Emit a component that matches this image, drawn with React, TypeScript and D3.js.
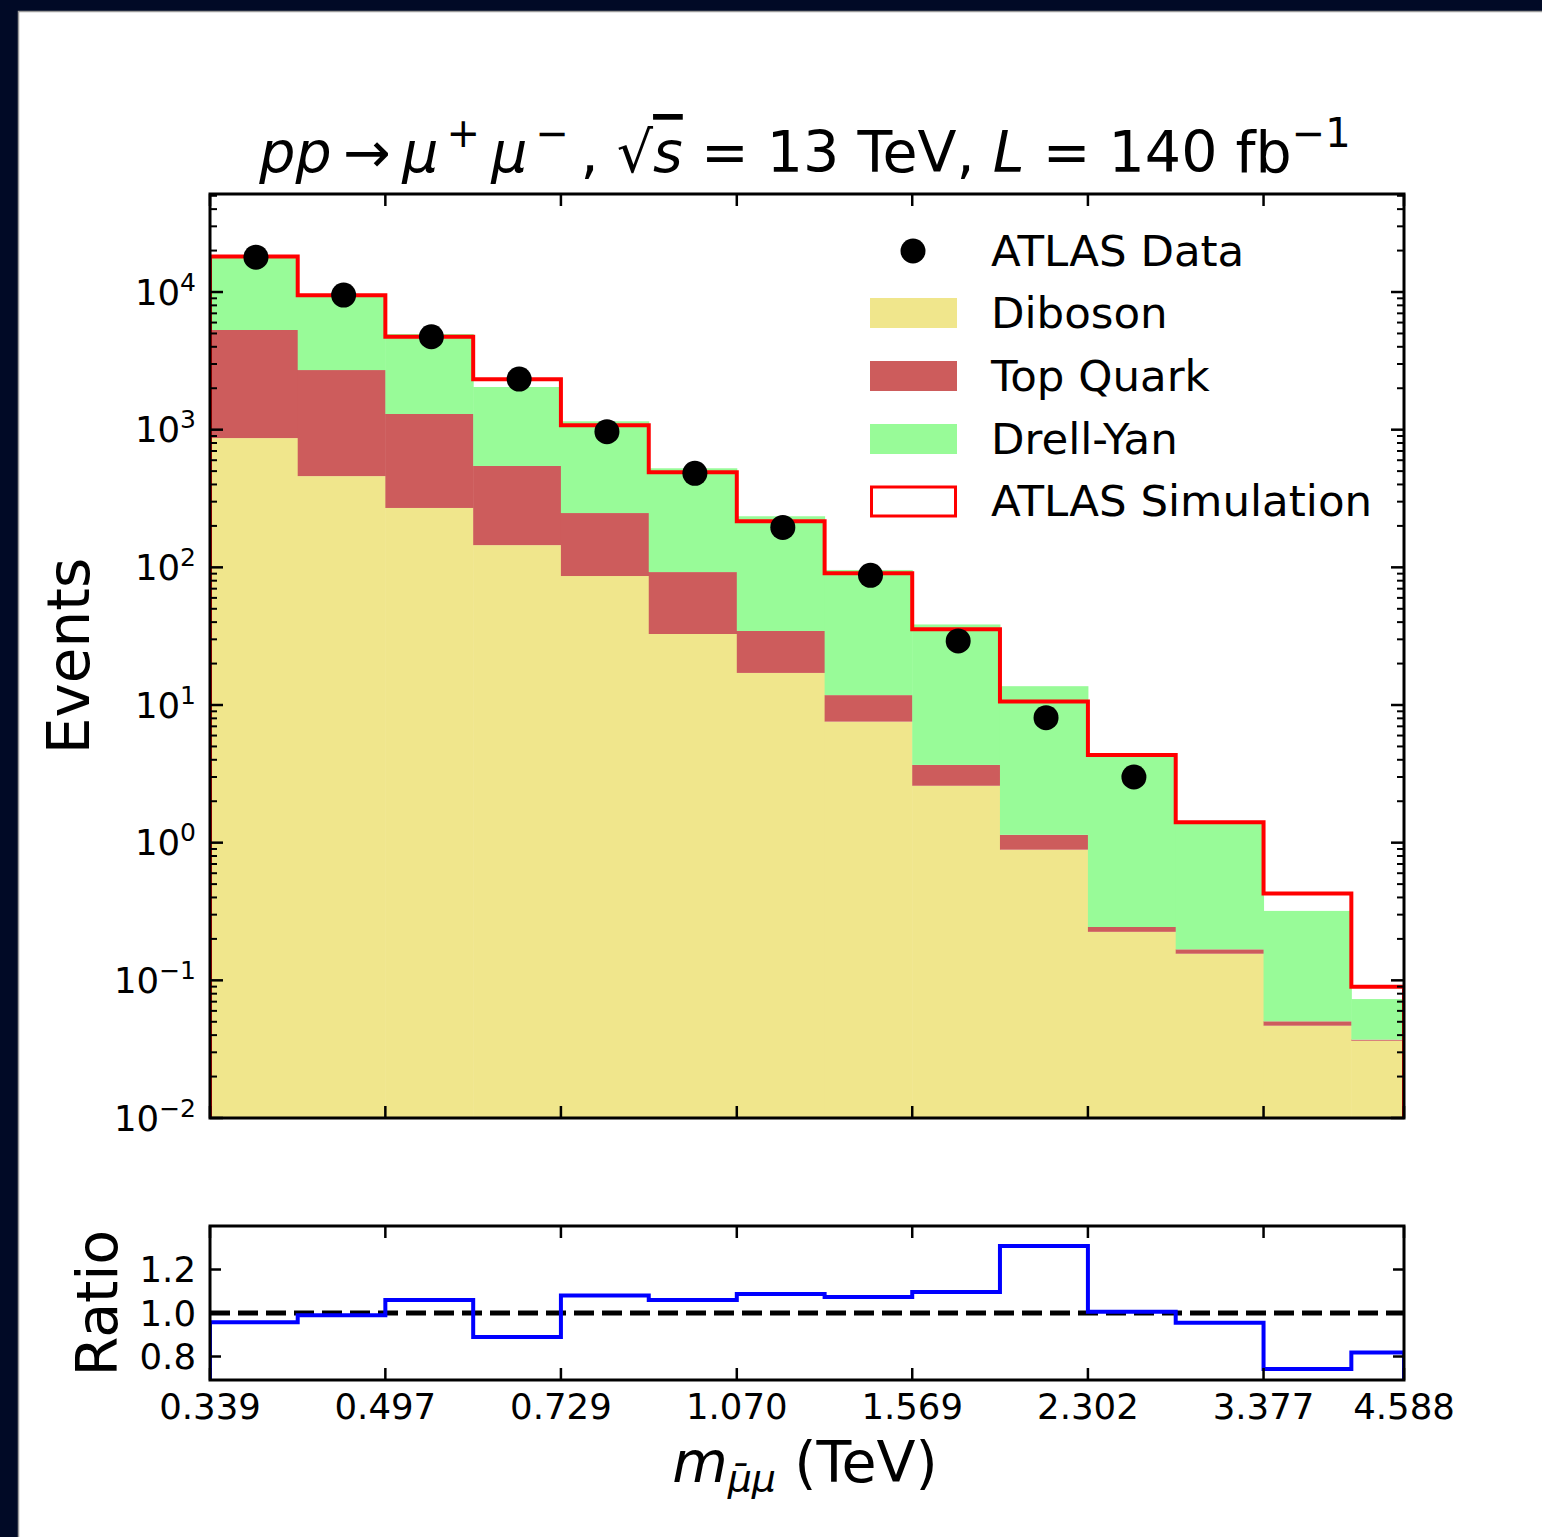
import React from "react";
import * as d3 from "d3";

// bin edges of the dimuon mass histogram (TeV)
const binEdges = [0.339, 0.4105, 0.497, 0.602, 0.729, 0.883, 1.07, 1.296, 1.569, 1.9, 2.302, 2.788, 3.377, 4.09, 4.588];

// stacked backgrounds, per bin
const diboson = [869, 460, 270, 145, 86.5, 32.8, 17.1, 7.57, 2.59, 0.889, 0.225, 0.156, 0.0468, 0.0364];
const topQuark = [4428, 2251, 1030, 400, 161.5, 59.6, 17.4, 4.23, 1.08, 0.251, 0.019, 0.012, 0.0036, 0.0007];
const drellYan = [12940, 6795, 3655, 1497, 903, 432, 200.5, 83.9, 34.8, 12.56, 4.16, 1.23, 0.269, 0.036];

// total simulation (step line) and data points
const simulation = [18150, 9460, 4733, 2322, 1076, 490, 216, 90.6, 35.5, 10.6, 4.34, 1.41, 0.428, 0.09];
const atlasData = [17900, 9500, 4733, 2330, 967, 482, 195, 87.5, 29.2, 8.09, 3.0];

// ratio panel
const ratio = [0.957, 0.99, 1.06, 0.89, 1.08, 1.06, 1.087, 1.074, 1.097, 1.308, 1.006, 0.955, 0.743, 0.818];

const xTickValues = [0.339, 0.497, 0.729, 1.07, 1.569, 2.302, 3.377, 4.588];
const xTickLabels = ["0.339", "0.497", "0.729", "1.070", "1.569", "2.302", "3.377", "4.588"];
const yExponents = [-2, -1, 0, 1, 2, 3, 4];
const ratioTicks = [0.8, 1.0, 1.2];
const ratioTickLabels = ["0.8", "1.0", "1.2"];

const seriesKeys = ["diboson", "topQuark", "drellYan"];
const seriesLabels = ["Diboson", "Top Quark", "Drell-Yan"];
const seriesColors = ["#F0E68C", "#CD5C5C", "#98FB98"];

const W = 1542;
const H = 1537;
const main = { left: 210, right: 1404, top: 194, bottom: 1118 };
const rp = { top: 1226, bottom: 1380 };
const font = "'DejaVu Sans', sans-serif";

function stepPoints(values: number[], x: (v: number) => number, y: (v: number) => number, base: number) {
  const pts: [number, number][] = [[x(binEdges[0]), base]];
  values.forEach((v, i) => {
    pts.push([x(binEdges[i]), y(v)]);
    pts.push([x(binEdges[i + 1]), y(v)]);
  });
  pts.push([x(binEdges[binEdges.length - 1]), base]);
  return pts;
}

export default function App() {
  const x = d3.scaleLog().domain([binEdges[0], binEdges[binEdges.length - 1]]).range([main.left, main.right]);
  const y = d3.scaleLog().domain([1e-2, Math.pow(10, 4.712)]).range([main.bottom, main.top]);
  const yr = d3.scaleLinear().domain([0.692, 1.4]).range([rp.bottom, rp.top]);

  const rows = diboson.map((d, i) => ({ diboson: d, topQuark: topQuark[i], drellYan: drellYan[i] }));
  const stacked = d3.stack<any>().keys(seriesKeys)(rows);

  const line = d3.line();
  const simPath = line(stepPoints(simulation, x, y, main.bottom + 5));
  const ratioPath = line(stepPoints(ratio, x, yr, rp.bottom + 5));

  const minorTicks: number[] = [];
  yExponents.forEach((e) => {
    for (let m = 2; m <= 9; m++) {
      const v = m * Math.pow(10, e);
      if (v < y.domain()[1]) minorTicks.push(v);
    }
  });

  const supMinus = (e: number) => (e < 0 ? "\u2212" + Math.abs(e) : String(e));

  return (
    <div style={{ position: "absolute", left: 0, top: 0 }}>
      <svg width={W} height={H} style={{ display: "block", fontFamily: font }}>
        <rect x={0} y={0} width={W} height={H} fill="#010a26" />
        <rect x={18.5} y={11.5} width={W} height={H} fill="#ffffff" stroke="#9a9a9a" strokeWidth={1.5} />

        <defs>
          <clipPath id="mainClip">
            <rect x={main.left} y={main.top} width={main.right - main.left} height={main.bottom - main.top} />
          </clipPath>
          <clipPath id="ratioClip">
            <rect x={main.left} y={rp.top} width={main.right - main.left} height={rp.bottom - rp.top} />
          </clipPath>
        </defs>

        {/* title */}
        <text x={805} y={172} textAnchor="middle" fontSize={57}>
          <tspan fontStyle="italic">pp</tspan>
          <tspan>{"\u2009\u2192\u2009"}</tspan>
          <tspan fontStyle="italic">μ</tspan>
          <tspan fontSize={40} dy={-25}>{"\u2009+"}</tspan>
          <tspan fontStyle="italic" dy={25}>{"\u2009μ"}</tspan>
          <tspan fontSize={40} dy={-25}>{"\u2009\u2212"}</tspan>
          <tspan dy={25}>{"\u2009, \u221A"}</tspan>
          <tspan fontStyle="italic" style={{ textDecoration: "overline" }}>s</tspan>
          <tspan>{" = 13 TeV, "}</tspan>
          <tspan fontStyle="italic">L</tspan>
          <tspan>{" = 140 fb"}</tspan>
          <tspan fontSize={40} dy={-25}>{"\u22121"}</tspan>
        </text>

        {/* stacked backgrounds */}
        <g clipPath="url(#mainClip)">
          {stacked.map((layer, li) =>
            layer.map((seg, i) => {
              const lo = seg[0] > 0 ? y(seg[0]) : main.bottom + 5;
              const hi = y(seg[1]);
              return (
                <rect
                  key={`${li}-${i}`}
                  x={x(binEdges[i])}
                  y={hi}
                  width={x(binEdges[i + 1]) - x(binEdges[i]) + 0.5}
                  height={Math.max(0, lo - hi)}
                  fill={seriesColors[li]}
                />
              );
            })
          )}
          <path d={simPath ?? ""} fill="none" stroke="#ff0000" strokeWidth={4} strokeLinejoin="miter" />
          {atlasData.map((v, i) => (
            <circle key={i} cx={x((binEdges[i] + binEdges[i + 1]) / 2)} cy={y(v)} r={12.5} fill="#000" />
          ))}
        </g>

        {/* main axes frame and ticks */}
        <rect x={main.left} y={main.top} width={main.right - main.left} height={main.bottom - main.top} fill="none" stroke="#000" strokeWidth={3} />
        {xTickValues.map((v, i) => (
          <g key={i} stroke="#000" strokeWidth={2.5}>
            <line x1={x(v)} x2={x(v)} y1={main.bottom} y2={main.bottom - 12} />
            <line x1={x(v)} x2={x(v)} y1={main.top} y2={main.top + 12} />
          </g>
        ))}
        {yExponents.map((e) => (
          <g key={e}>
            <line x1={main.left} x2={main.left + 13} y1={y(Math.pow(10, e))} y2={y(Math.pow(10, e))} stroke="#000" strokeWidth={2.5} />
            <line x1={main.right} x2={main.right - 13} y1={y(Math.pow(10, e))} y2={y(Math.pow(10, e))} stroke="#000" strokeWidth={2.5} />
            <text x={196} y={y(Math.pow(10, e)) + 12.5} textAnchor="end" fontSize={35.5}>
              <tspan>10</tspan>
              <tspan fontSize={25} dy={-14}>{supMinus(e)}</tspan>
            </text>
          </g>
        ))}
        {minorTicks.map((v, i) => (
          <g key={i} stroke="#000" strokeWidth={2}>
            <line x1={main.left} x2={main.left + 7} y1={y(v)} y2={y(v)} />
            <line x1={main.right} x2={main.right - 7} y1={y(v)} y2={y(v)} />
          </g>
        ))}
        <text transform={`translate(89,${(main.top + main.bottom) / 2}) rotate(-90)`} textAnchor="middle" fontSize={58}>
          Events
        </text>

        {/* legend */}
        <g fontSize={43.5}>
          <circle cx={913} cy={251} r={12.5} fill="#000" />
          <text x={991} y={266}>ATLAS Data</text>
          {seriesLabels.map((lab, i) => (
            <g key={lab}>
              <rect x={870} y={298 + i * 63} width={87} height={30} fill={seriesColors[i]} />
              <text x={991} y={328 + i * 63}>{lab}</text>
            </g>
          ))}
          <rect x={871.5} y={487} width={84} height={29} fill="#fff" stroke="#ff0000" strokeWidth={3} />
          <text x={991} y={516}>ATLAS Simulation</text>
        </g>

        {/* ratio panel */}
        <g clipPath="url(#ratioClip)">
          <line x1={main.left} x2={main.right} y1={yr(1)} y2={yr(1)} stroke="#000" strokeWidth={5} strokeDasharray="20,8" />
          <path d={ratioPath ?? ""} fill="none" stroke="#0000ff" strokeWidth={4} />
        </g>
        <rect x={main.left} y={rp.top} width={main.right - main.left} height={rp.bottom - rp.top} fill="none" stroke="#000" strokeWidth={3} />
        {xTickValues.map((v, i) => (
          <g key={i}>
            <line x1={x(v)} x2={x(v)} y1={rp.bottom} y2={rp.bottom - 12} stroke="#000" strokeWidth={2.5} />
            <line x1={x(v)} x2={x(v)} y1={rp.top} y2={rp.top + 12} stroke="#000" strokeWidth={2.5} />
            <text x={x(v)} y={1419} textAnchor="middle" fontSize={35.5}>{xTickLabels[i]}</text>
          </g>
        ))}
        {ratioTicks.map((v, i) => (
          <g key={i}>
            <line x1={main.left} x2={main.left + 11} y1={yr(v)} y2={yr(v)} stroke="#000" strokeWidth={2.5} />
            <line x1={main.right} x2={main.right - 11} y1={yr(v)} y2={yr(v)} stroke="#000" strokeWidth={2.5} />
            <text x={196} y={yr(v) + 12.5} textAnchor="end" fontSize={35.5}>{ratioTickLabels[i]}</text>
          </g>
        ))}
        <text transform={`translate(117,${(rp.top + rp.bottom) / 2}) rotate(-90)`} textAnchor="middle" fontSize={57}>
          Ratio
        </text>

        {/* x label */}
        <text x={805} y={1482} textAnchor="middle" fontSize={57}>
          <tspan fontStyle="italic">m</tspan>
          <tspan fontStyle="italic" fontSize={38} dy={9}>{"\u03BC\u0304\u03BC"}</tspan>
          <tspan dy={-9}>{" (TeV)"}</tspan>
        </text>
      </svg>
    </div>
  );
}
